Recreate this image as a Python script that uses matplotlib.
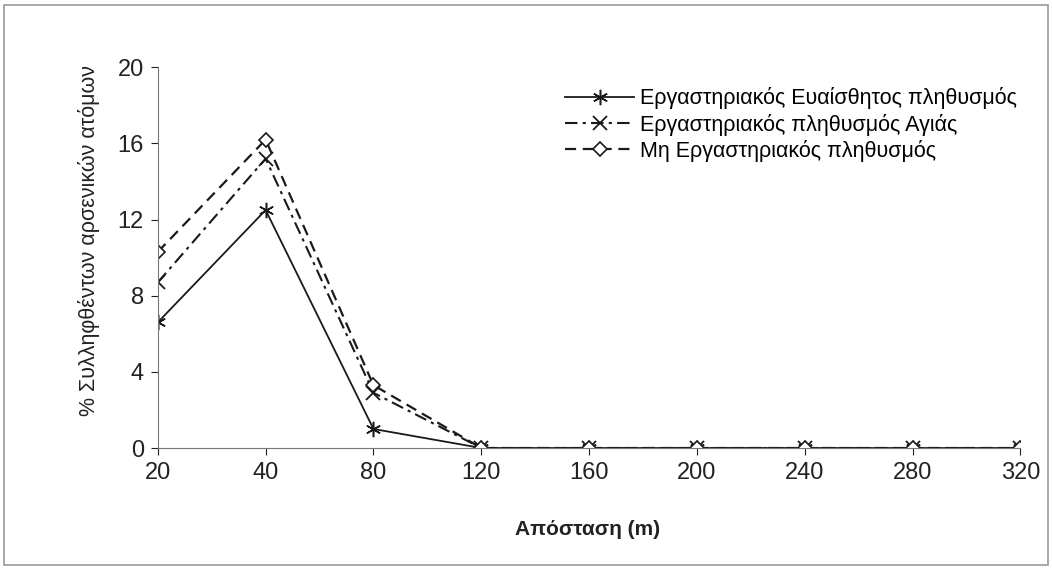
import numpy as np
import matplotlib
matplotlib.use("Agg")
import matplotlib.pyplot as plt

plt.rcParams['font.family'] = ['Liberation Sans', 'DejaVu Sans']

# Data
distances = ["20", "40", "80", "120", "160", "200", "240", "280", "320"]
sensitive = [6.6, 12.5, 1.0, 0, 0, 0, 0, 0, 0]
lab_agia = [8.7, 15.2, 2.9, 0, 0, 0, 0, 0, 0]
non_lab = [10.3, 16.2, 3.3, 0, 0, 0, 0, 0, 0]
labels = ["Εργαστηριακός Ευαίσθητος πληθυσμός",
          "Εργαστηριακός πληθυσμός Αγιάς",
          "Μη Εργαστηριακός πληθυσμός"]

x = np.arange(len(distances))

fig = plt.figure(figsize=(10.52, 5.70), dpi=100)
ax = fig.add_axes([0.150, 0.214, 0.820, 0.668])

ax.plot(x, sensitive, color='#1a1a1a', lw=1.3, ls='-', marker=(6, 2, 0),
        ms=11, mew=1.1, label=labels[0])
ax.plot(x, lab_agia, color='#1a1a1a', lw=1.5, ls=(0, (6, 2.5, 1.5, 2.5)), marker='x',
        ms=10, mew=1.3, label=labels[1])
ax.plot(x, non_lab, color='#1a1a1a', lw=1.6, ls=(0, (5, 3)), marker='D',
        ms=7, mew=1.2, mfc='white', label=labels[2])

ax.set_xlim(0, 8)
ax.set_ylim(0, 20)
ax.set_xticks(x)
ax.set_xticklabels(distances)
ax.set_yticks([0, 4, 8, 12, 16, 20])
ax.tick_params(axis='both', labelsize=17, colors='#222222', direction='out', length=5)
ax.tick_params(axis='x', pad=5)
ax.tick_params(axis='y', pad=5)
for s in ['top', 'right']:
    ax.spines[s].set_visible(False)
for s in ['left', 'bottom']:
    ax.spines[s].set_color('#777777')

ax.set_ylabel("% Συλληφθέντων αρσενικών ατόμων", fontsize=15.5, color='#222222')
ax.yaxis.set_label_coords(-0.067, 0.546)
ax.set_xlabel("Απόσταση (m)", fontsize=15, fontweight='bold', color='#222222')
ax.xaxis.set_label_coords(0.498, -0.19)

ax.legend(loc='upper left', bbox_to_anchor=(0.45, 0.998), frameon=False,
          fontsize=15.5, handlelength=3.2, handletextpad=0.25, labelspacing=0.2)

# figure border
fig.patches.append(plt.Rectangle((0.004, 0.008), 0.992, 0.984, transform=fig.transFigure,
                                 fill=False, edgecolor='#999999', lw=1.2))

fig.savefig("out.png", dpi=100)
